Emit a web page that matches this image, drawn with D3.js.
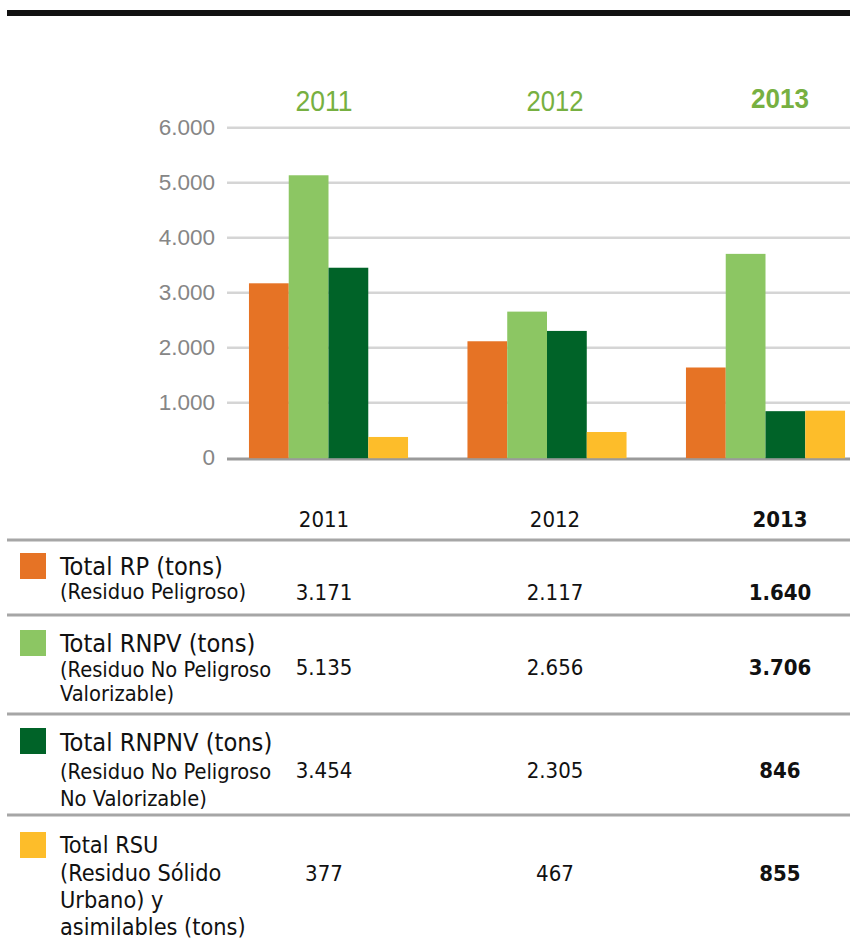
<!DOCTYPE html>
<html>
<head>
<meta charset="utf-8">
<script src="https://cdn.jsdelivr.net/npm/d3@7"></script>
<style>
  html, body { margin: 0; padding: 0; background: #fff; }
  svg { display: block; }
  .cond { font-stretch: condensed; }
</style>
</head>
<body>
<div id="chart"></div>
<script>
// ---------- data ----------
const years = ["2011", "2012", "2013"];
const seriesKeys = ["RP", "RNPV", "RNPNV", "RSU"];
const valuesRP    = [3171, 2117, 1640];
const valuesRNPV  = [5135, 2656, 3706];
const valuesRNPNV = [3454, 2305, 846];
const valuesRSU   = [377, 467, 855];
const tickValues  = [0, 1000, 2000, 3000, 4000, 5000, 6000];
const legendLines = [
  ["Total RP (tons)", "(Residuo Peligroso)"],
  ["Total RNPV (tons)", "(Residuo No Peligroso", "Valorizable)"],
  ["Total RNPNV (tons)", "(Residuo No Peligroso", "No Valorizable)"],
  ["Total RSU", "(Residuo Sólido", "Urbano) y", "asimilables (tons)"]
];
const seriesColors = ["#e67325", "#8cc663", "#006328", "#fdbd2a"];

const seriesValues = [valuesRP, valuesRNPV, valuesRNPNV, valuesRSU];
const table = years.map((yr, i) => {
  const row = { year: yr };
  seriesKeys.forEach((k, j) => row[k] = seriesValues[j][i]);
  return row;
});

// ---------- setup ----------
const W = 850, H = 949;
const svg = d3.select("#chart").append("svg").attr("width", W).attr("height", H);
const fontMain = "'Liberation Sans', Arial, sans-serif";
const fontTable = "'DejaVu Sans Condensed', 'DejaVu Sans', sans-serif";
const locale = d3.formatLocale({ decimal: ",", thousands: ".", grouping: [3], currency: ["", ""] });
const fmt = locale.format(",");

// top black rule
svg.append("rect").attr("x", 7).attr("y", 10).attr("width", W - 7).attr("height", 6).attr("fill", "#111");

// scales
const y = d3.scaleLinear().domain([0, 6000]).range([457.7, 127.7]);
const x0 = d3.scaleBand().domain(years).range([219.25, 874.75]).paddingInner(0.272).paddingOuter(0.136);
const x1 = d3.scaleBand().domain(seriesKeys).range([0, x0.bandwidth()]).padding(0);
const color = d3.scaleOrdinal(seriesKeys, seriesColors);
const col = d3.scaleOrdinal(years, [324, 555, 780]);

// gridlines
const gridX0 = 227, gridX1 = W;
svg.append("g").selectAll("line")
  .data(tickValues.filter(v => v > 0))
  .join("line")
  .attr("x1", gridX0).attr("x2", gridX1)
  .attr("y1", d => y(d)).attr("y2", d => y(d))
  .attr("stroke", "#d5d5d5").attr("stroke-width", 2.6);

// baseline
svg.append("line")
  .attr("x1", gridX0).attr("x2", gridX1)
  .attr("y1", y(0) + 1.2).attr("y2", y(0) + 1.2)
  .attr("stroke", "#9a9a9a").attr("stroke-width", 3);

// y tick labels
svg.append("g").selectAll("text")
  .data(tickValues)
  .join("text")
  .attr("x", 215).attr("y", d => y(d) + 7.5)
  .attr("text-anchor", "end")
  .attr("font-family", fontMain).attr("font-size", 22.5)
  .attr("fill", "#868686")
  .text(d => fmt(d));

// bars
const groups = svg.append("g").selectAll("g")
  .data(table)
  .join("g")
  .attr("transform", d => `translate(${x0(d.year)},0)`);
groups.selectAll("rect")
  .data(d => seriesKeys.map(k => ({ key: k, value: d[k] })))
  .join("rect")
  .attr("x", d => x1(d.key))
  .attr("width", x1.bandwidth())
  .attr("y", d => y(d.value))
  .attr("height", d => y(0) - y(d.value) + 0.5)
  .attr("fill", d => color(d.key));

// year headers above chart
svg.append("g").selectAll("text")
  .data(years)
  .join("text")
  .attr("x", d => col(d))
  .attr("y", d => d === "2013" ? 108 : 111)
  .attr("text-anchor", "middle")
  .attr("font-family", fontMain)
  .attr("font-size", d => d === "2013" ? 28 : 30)
  .attr("font-weight", d => d === "2013" ? "bold" : "normal")
  .attr("textLength", d => d === "2013" ? 58 : 57)
  .attr("lengthAdjust", "spacingAndGlyphs")
  .attr("fill", "#77b041")
  .text(d => d);

// ---------- table ----------
const tbl = svg.append("g").attr("class", "cond");
// header row
tbl.selectAll("text.hdr")
  .data(years)
  .join("text")
  .attr("class", "hdr")
  .attr("x", d => col(d)).attr("y", 527)
  .attr("text-anchor", "middle")
  .attr("font-family", fontTable).attr("font-size", 22)
  .attr("font-weight", d => d === "2013" ? "bold" : "normal")
  .attr("fill", "#111")
  .text(d => d);

// separators
const sepY = [540, 615, 714, 815];
tbl.selectAll("line.sep")
  .data(sepY)
  .join("line")
  .attr("class", "sep")
  .attr("x1", 7).attr("x2", W)
  .attr("y1", d => d).attr("y2", d => d)
  .attr("stroke", "#a6a6a6").attr("stroke-width", 3);

// rows layout
const rowLayout = [
  { swatchY: 553, lineY: [575, 599], valY: 600 },
  { swatchY: 630, lineY: [652, 677, 701], valY: 675 },
  { swatchY: 728, lineY: [751, 779, 806], valY: 778 },
  { swatchY: 832, lineY: [853, 881, 908, 935], valY: 881 }
];

seriesKeys.forEach((k, i) => {
  const g = tbl.append("g");
  const L = rowLayout[i];
  g.append("rect")
    .attr("x", 20).attr("y", L.swatchY).attr("width", 26).attr("height", 26)
    .attr("fill", color(k));
  g.selectAll("text.lbl")
    .data(legendLines[i])
    .join("text")
    .attr("class", "lbl")
    .attr("x", 60)
    .attr("y", (d, j) => L.lineY[j])
    .attr("font-family", fontTable)
    .attr("font-size", (d, j) => (j === 0 && i < 3) ? 25.2 : (i === 3 ? 23.3 : 21.7))
    .attr("fill", "#111")
    .text(d => d);
  g.selectAll("text.val")
    .data(years)
    .join("text")
    .attr("class", "val")
    .attr("x", yr => col(yr)).attr("y", L.valY)
    .attr("text-anchor", "middle")
    .attr("font-family", fontTable).attr("font-size", 22)
    .attr("font-weight", yr => yr === "2013" ? "bold" : "normal")
    .attr("fill", "#111")
    .text((yr, j) => fmt(seriesValues[i][j]));
});
</script>
</body>
</html>
